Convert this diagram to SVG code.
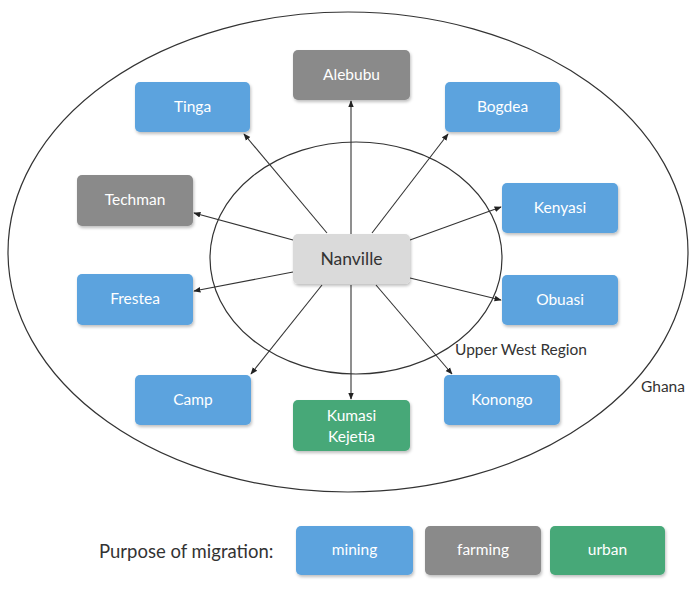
<svg xmlns="http://www.w3.org/2000/svg" width="690" height="604" viewBox="0 0 690 604">
<style>
.box{stroke:none;filter:url(#sh)}
.mining{fill:#5ba3de}
.farming{fill:#8a8a8a}
.urban{fill:#46a878}
.t{font-family:Lato,"Liberation Sans",sans-serif;font-size:15.5px;fill:#ffffff;text-anchor:middle}
.d{font-family:Lato,"Liberation Sans",sans-serif;fill:#333333}
.ell{fill:none;stroke:#333333;stroke-width:1.2}
.con line{stroke:#333333;stroke-width:1.1;marker-end:url(#ah)}
</style>
<defs>
<marker id="ah" viewBox="0 0 10 10" refX="9" refY="5" markerWidth="6.5" markerHeight="6.5" orient="auto-start-reverse">
<path d="M0,1 L10,5 L0,9 z" fill="#222222"/>
</marker>
<filter id="sh" x="-10%" y="-10%" width="125%" height="135%">
<feDropShadow dx="1" dy="2" stdDeviation="1.5" flood-color="#000000" flood-opacity="0.25"/>
</filter>
</defs>
<rect width="690" height="604" fill="#ffffff"/>
<ellipse class="ell" cx="348" cy="252" rx="340" ry="240"/>
<ellipse class="ell" cx="356" cy="258" rx="146" ry="116"/>
<text class="d" x="455" y="355" font-size="15.5">Upper West Region</text>
<text class="d" x="641" y="392" font-size="15.5">Ghana</text>
<g class="con">
<line x1="351" y1="234" x2="351" y2="101"/>
<line x1="327" y1="233" x2="244" y2="134"/>
<line x1="372" y1="233" x2="448" y2="134"/>
<line x1="293" y1="240" x2="194" y2="213"/>
<line x1="293" y1="272" x2="194" y2="291"/>
<line x1="410" y1="240" x2="501" y2="207"/>
<line x1="410" y1="278" x2="501" y2="300"/>
<line x1="322" y1="285" x2="251" y2="374"/>
<line x1="351" y1="285" x2="351" y2="399"/>
<line x1="376" y1="285" x2="452" y2="374"/>
</g>
<g id="nanville"><rect class="box" x="293" y="234" width="117" height="50" rx="5" fill="#dadada"/><text class="d" x="351.5" y="265" font-size="17.5" text-anchor="middle">Nanville</text></g>
<g id="alebubu"><rect class="box farming" x="293" y="50" width="117" height="50" rx="5"/><text class="t" x="351.5" y="80">Alebubu</text></g>
<g id="tinga"><rect class="box mining" x="135" y="82" width="115" height="50" rx="5"/><text class="t" x="192.5" y="112">Tinga</text></g>
<g id="bogdea"><rect class="box mining" x="445" y="82" width="115" height="50" rx="5"/><text class="t" x="502.5" y="112">Bogdea</text></g>
<g id="techman"><rect class="box farming" x="77" y="175" width="116" height="51" rx="5"/><text class="t" x="135" y="205">Techman</text></g>
<g id="frestea"><rect class="box mining" x="77" y="274" width="116" height="51" rx="5"/><text class="t" x="135" y="304">Frestea</text></g>
<g id="kenyasi"><rect class="box mining" x="502" y="183" width="116" height="50" rx="5"/><text class="t" x="560" y="213">Kenyasi</text></g>
<g id="obuasi"><rect class="box mining" x="502" y="275" width="116" height="50" rx="5"/><text class="t" x="560" y="305">Obuasi</text></g>
<g id="camp"><rect class="box mining" x="135" y="375" width="116" height="50" rx="5"/><text class="t" x="193" y="405">Camp</text></g>
<g id="kumasi"><rect class="box urban" x="293" y="400" width="117" height="51" rx="5"/><text class="t" x="351.5" y="421">Kumasi</text><text class="t" x="351.5" y="442">Kejetia</text></g>
<g id="konongo"><rect class="box mining" x="444" y="375" width="116" height="50" rx="5"/><text class="t" x="502" y="405">Konongo</text></g>
<g id="legend">
<text class="d" x="99" y="558" font-size="18.5" fill="#444444">Purpose of migration:</text>
<rect class="box mining" x="296" y="526" width="117" height="49" rx="5"/><text class="t" x="354.5" y="555">mining</text>
<rect class="box farming" x="425" y="526" width="116" height="49" rx="5"/><text class="t" x="483" y="555">farming</text>
<rect class="box urban" x="550" y="526" width="115" height="49" rx="5"/><text class="t" x="607.5" y="555">urban</text>
</g>
</svg>
